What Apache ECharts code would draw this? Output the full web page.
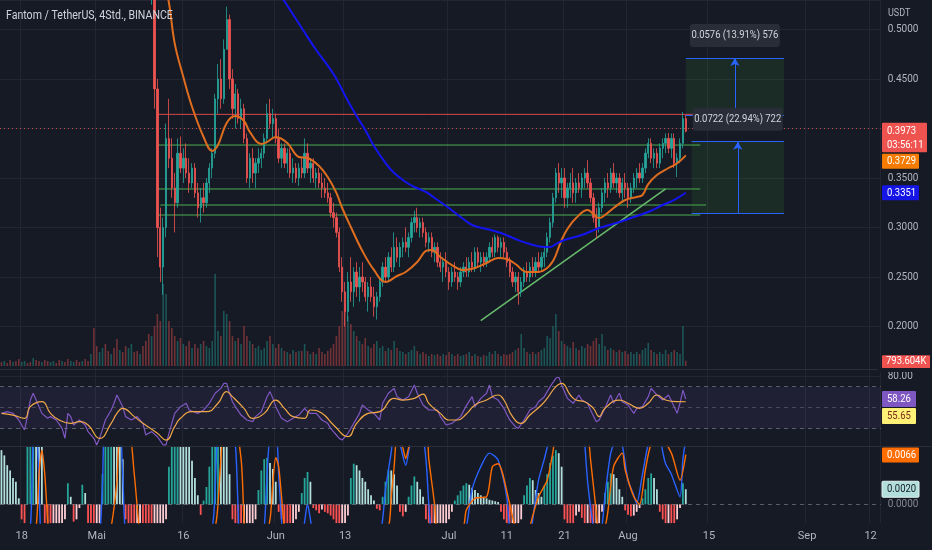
<!DOCTYPE html>
<html>
<head>
<meta charset="utf-8">
<title>FTMUSDT 4h</title>
<script src="https://cdn.jsdelivr.net/npm/echarts@6.0.0/dist/echarts.min.js"></script>
<style>
html,body{margin:0;padding:0;background:#161a25;overflow:hidden}
#chart{width:932px;height:550px}
</style>
</head>
<body>
<div id="chart"></div>
<script>
// ---------------- data ----------------
const TITLE = 'Fantom / TetherUS, 4Std., BINANCE';
const START = Date.UTC(2022, 3, 14, 12);      // first category (12h steps)
const N_CAT = 305;
const tickIdx  = [7, 33, 63, 95, 119, 155, 175, 195, 217, 245, 279, 301];
const tickText = ['18', 'Mai', '16', 'Jun', '13', 'Jul', '11', '21', 'Aug', '15', 'Sep', '12'];

const FIRST = 51; // category index of first visible candle
const open = [.56,.545,.55,.44,.30,.26,.30,.39,.37,.34,
.325,.375,.36,.37,.355,.345,.36,.335,.32,.33,
.325,.345,.36,.375,.43,.45,.43,.48,.51,.45,
.42,.435,.41,.42,.39,.35,.37,.355,.365,.37,
.375,.39,.415,.405,.41,.39,.37,.38,.365,.375,
.355,.36,.35,.36,.355,.375,.36,.365,.35,.355,
.345,.34,.335,.33,.315,.31,.295,.26,.235,.215,
.245,.235,.255,.24,.25,.245,.23,.24,.23,.22,
.23,.245,.26,.25,.27,.26,.28,.27,.28,.285,
.28,.29,.305,.31,.30,.305,.295,.285,.29,.275,
.28,.265,.26,.265,.255,.245,.255,.25,.245,.255,
.26,.255,.265,.26,.275,.265,.27,.265,.27,.28,
.275,.29,.28,.285,.275,.265,.255,.245,.25,.235,
.245,.255,.25,.26,.255,.265,.26,.27,.275,.29,
.305,.33,.355,.345,.35,.33,.34,.345,.335,.345,
.34,.35,.355,.345,.33,.31,.30,.32,.335,.345,
.34,.355,.345,.35,.335,.345,.34,.33,.34,.35,
.355,.35,.36,.375,.385,.37,.375,.365,.38,.385,
.39,.38,.39,.365,.37,.385,.41];
const close = [.545,.55,.44,.30,.26,.30,.39,.37,.34,.325,
.375,.36,.37,.355,.345,.36,.335,.32,.33,.325,
.345,.36,.375,.43,.45,.43,.48,.51,.45,.42,
.435,.41,.42,.39,.35,.37,.355,.365,.37,.375,
.39,.415,.405,.41,.39,.37,.38,.365,.375,.355,
.36,.35,.36,.355,.375,.36,.365,.35,.355,.345,
.34,.335,.33,.315,.31,.295,.26,.235,.215,.245,
.235,.255,.24,.25,.245,.23,.24,.23,.22,.23,
.245,.26,.25,.27,.26,.28,.27,.28,.285,.28,
.29,.305,.31,.30,.305,.295,.285,.29,.275,.28,
.265,.26,.265,.255,.245,.255,.25,.245,.255,.26,
.255,.265,.26,.275,.265,.27,.265,.27,.28,.275,
.29,.28,.285,.275,.265,.255,.245,.25,.235,.245,
.255,.25,.26,.255,.265,.26,.27,.275,.29,.305,
.33,.355,.345,.35,.33,.34,.345,.335,.345,.34,
.35,.355,.345,.33,.31,.30,.32,.335,.345,.34,
.355,.345,.35,.335,.345,.34,.33,.34,.35,.355,
.35,.36,.375,.385,.37,.375,.365,.38,.385,.39,
.38,.39,.365,.37,.385,.41,.3973];
const low = [.54,.525,.42,.27,.245,.232,.29,.36,.33,.295,
.32,.355,.345,.35,.335,.34,.33,.31,.305,.315,
.32,.335,.35,.37,.415,.42,.425,.48,.44,.41,
.40,.405,.40,.385,.345,.34,.345,.34,.355,.36,
.37,.385,.40,.39,.385,.365,.36,.36,.355,.35,
.345,.345,.342,.35,.35,.355,.345,.345,.34,.34,
.33,.33,.325,.31,.30,.29,.255,.225,.20,.205,
.225,.22,.23,.225,.235,.225,.215,.225,.21,.207,
.225,.24,.245,.245,.255,.255,.265,.26,.27,.275,
.27,.285,.295,.295,.29,.29,.28,.275,.27,.265,
.26,.255,.245,.25,.237,.24,.245,.237,.24,.25,
.25,.25,.255,.255,.26,.255,.26,.26,.265,.27,
.27,.275,.27,.27,.26,.25,.24,.235,.222,.23,
.24,.245,.245,.25,.25,.255,.255,.26,.27,.285,
.30,.325,.335,.33,.32,.32,.33,.325,.325,.335,
.33,.34,.34,.325,.305,.289,.295,.315,.325,.33,
.335,.34,.335,.33,.325,.33,.32,.325,.335,.34,
.345,.345,.355,.37,.365,.36,.36,.36,.37,.375,
.375,.37,.36,.351,.365,.38,.396];
const high = [.58,.57,.555,.45,.32,.31,.405,.43,.39,.355,
.39,.392,.38,.385,.37,.365,.365,.345,.34,.345,
.35,.365,.38,.435,.465,.47,.49,.523,.515,.46,
.445,.44,.43,.425,.395,.375,.38,.37,.38,.38,
.395,.425,.43,.42,.415,.40,.385,.385,.38,.38,
.37,.365,.365,.37,.39,.385,.37,.37,.36,.36,
.355,.35,.345,.335,.325,.315,.30,.27,.245,.255,
.27,.26,.265,.26,.265,.25,.245,.25,.24,.235,
.25,.265,.27,.275,.28,.295,.29,.285,.29,.30,
.295,.31,.317,.32,.31,.31,.30,.295,.295,.285,
.285,.275,.27,.275,.26,.26,.265,.255,.26,.265,
.27,.27,.275,.28,.28,.275,.275,.275,.285,.29,
.293,.292,.29,.29,.28,.27,.26,.255,.255,.25,
.26,.265,.265,.27,.27,.275,.275,.28,.295,.31,
.335,.36,.365,.36,.36,.345,.355,.36,.35,.355,
.355,.36,.368,.35,.335,.32,.325,.34,.35,.355,
.36,.365,.355,.355,.35,.355,.345,.345,.355,.36,
.365,.365,.38,.39,.39,.38,.38,.385,.39,.395,
.3955,.395,.395,.375,.39,.4167,.414];

// volume in thousands of FTM, one value per 12h category from index 0
const volume = [600,750,450,900,600,750,1050,600,750,450,
600,1200,900,750,600,900,750,600,750,450,
900,750,600,1050,750,600,900,600,750,1050,
750,1800,5700,3000,2100,2700,3300,2250,1800,2700,
4050,2400,2100,3000,2700,3300,2100,2250,1800,3000,
3750,4800,4500,6000,7800,6750,12300,10800,6750,5700,
4500,3750,4200,3300,3000,3750,2700,3300,2700,3300,
3750,3000,2700,3750,13800,5250,4500,8250,7800,6750,
4500,3750,4200,3300,6000,4500,3750,3300,2700,3000,
2400,2700,3750,4500,3300,2700,3300,2700,2250,2100,
1800,2400,2100,2250,2250,3300,2250,1800,2100,1800,
2700,2100,1800,2250,2700,3300,4500,6000,8250,9300,
7500,6300,5250,4500,3750,3300,4200,3000,2700,3300,
3750,2700,3000,2250,2700,2400,3750,2700,2250,2100,
1800,2100,2400,3000,2250,1800,2100,1800,1500,1800,
1650,1800,1500,1800,1650,2100,1800,1500,1800,1500,
1650,1800,2100,1500,1800,1500,1350,1650,1500,2100,
1800,2250,1800,1500,1800,1650,1800,2100,2400,2700,
4800,2700,2100,1800,2100,1800,2100,2400,2700,4500,
4200,6000,7800,5250,3750,3300,3000,2700,3600,2700,
2400,3000,2700,3300,3000,3750,4200,3300,4800,3000,
2400,2700,2400,2100,2400,2100,2250,1800,2100,1800,
2100,1800,2400,2700,3450,2400,2100,1800,2100,1800,
2400,1800,2100,2400,2100,1800,6000,793.604];
// direction of the volume bars before the first visible candle (u = up, d = down)
const preSide = 'duddudduudduddudduuddudduudduddudduudduddudduuddudd';

const emaFast = [[55,0.570],[58,0.527],[60,0.486],[63,0.452],[66,0.422],[70,0.3914],[73,0.3773],[75,0.3833],[78,0.4056],[81,0.4126],[84,0.4076],[86,0.3965],[90,0.3843],[92,0.3864],[95,0.3914],[99,0.3854],[103,0.3712],[106,0.3702],[110,0.3621],[113,0.351],[116,0.3349],[118,0.3197],[121,0.3005],[125,0.2763],[129,0.2571],[133,0.245],[137,0.251],[140,0.2551],[144,0.2652],[147,0.2763],[149,0.2773],[152,0.2702],[156,0.2621],[160,0.2571],[164,0.2591],[168,0.2641],[172,0.2692],[175,0.2682],[178,0.2631],[182,0.2551],[186,0.2551],[189,0.2591],[191,0.2662],[192,0.2722],[194,0.2874],[196,0.2985],[199,0.3096],[203,0.3177],[205,0.3136],[207,0.3096],[209,0.3126],[212,0.3197],[216,0.3278],[220,0.3308],[222,0.3328],[224,0.3439],[227,0.353],[231,0.3601],[233,0.3631],[235,0.3672],[237,0.3729]];
const emaSlow = [[86,0.580],[97,0.533],[104,0.5015],[109,0.4793],[115,0.455],[120,0.4278],[123,0.4126],[126,0.3985],[129,0.3823],[133,0.3652],[136,0.355],[140,0.346],[143,0.3409],[147,0.3359],[150,0.3298],[154,0.3217],[159,0.3106],[163,0.3025],[168,0.2985],[173,0.2944],[178,0.2884],[183,0.2833],[188,0.2803],[190,0.2803],[192,0.2833],[195,0.2874],[201,0.2924],[207,0.2995],[213,0.3045],[219,0.3106],[224,0.3157],[229,0.3227],[233,0.3278],[237,0.3351]];

const rsi = [[0,44.6],[2,46.2],[4,44.6],[6,38.3],[8,28.8],[9,41.5],[10,57.3],[11,63.7],[12,57.3],[14,44.6],[16,39.9],[17,41.5],[19,38.3],[21,30.3],[22,20.8],[23,44.6],[24,41.5],[25,33.5],[27,38.3],[29,33.5],[30,27.2],[32,20.8],[33,14.5],[34,20.8],[36,38.3],[38,47.8],[39,54.2],[40,62.1],[42,51.0],[43,41.5],[45,38.3],[47,41.5],[49,35.1],[50,24.0],[52,27.2],[54,22.4],[56,14.5],[57,14.5],[58,25.6],[59,35.1],[60,44.6],[62,51.0],[64,54.2],[65,47.8],[68,44.6],[70,47.8],[72,54.2],[74,63.7],[76,68.4],[77,73.2],[78,73.2],[79,63.7],[80,55.7],[81,51.0],[83,43.0],[85,38.3],[87,36.7],[88,41.5],[90,46.2],[92,60.5],[93,65.3],[94,58.9],[95,51.0],[97,39.9],[99,36.7],[101,39.9],[103,43.0],[105,49.4],[106,46.2],[107,44.6],[109,44.6],[111,38.3],[113,35.1],[114,30.3],[116,24.0],[117,20.8],[118,19.2],[120,25.6],[122,35.1],[124,44.6],[125,52.6],[127,47.8],[129,44.6],[131,38.3],[132,54.2],[134,63.7],[136,68.4],[137,60.5],[139,57.3],[141,60.5],[143,71.6],[144,63.7],[146,52.6],[148,47.8],[151,47.8],[152,41.5],[154,33.5],[156,35.1],[159,41.5],[161,52.0],[163,60.5],[164,51.0],[166,58.9],[168,63.7],[169,71.6],[170,60.5],[172,57.3],[174,49.4],[176,38.3],[178,31.9],[179,30.3],[181,38.3],[183,47.8],[185,51.0],[186,55.7],[188,60.5],[190,70.0],[192,78.0],[193,79.6],[194,71.6],[196,58.9],[198,54.2],[200,62.1],[201,57.3],[203,54.2],[204,47.8],[206,36.7],[207,38.3],[209,49.4],[211,62.1],[212,54.2],[214,63.7],[215,55.7],[217,52.6],[219,44.6],[220,49.4],[222,51.0],[224,60.5],[225,68.4],[227,62.1],[229,57.3],[231,62.1],[233,51.0],[234,44.6],[235,54.2],[236,66.8],[237,58.26]];
const rsiMa = [[0,44.6],[4,43.0],[8,39.9],[10,51.0],[14,55.7],[17,44.6],[20,38.3],[24,35.1],[27,36.7],[30,33.5],[34,20.8],[38,35.1],[40,44.6],[42,49.4],[46,41.5],[49,35.1],[54,25.6],[57,19.2],[60,31.9],[62,39.9],[66,46.2],[71,46.2],[75,54.2],[78,65.3],[80,60.5],[84,49.4],[87,39.9],[91,44.6],[95,57.3],[98,49.4],[101,41.5],[105,39.9],[107,47.8],[111,44.6],[115,33.5],[120,22.4],[123,35.1],[127,44.6],[131,46.2],[136,58.9],[139,57.3],[143,58.9],[146,63.0],[148,54.2],[152,44.6],[155,38.3],[158,38.3],[161,44.0],[164,52.6],[168,57.3],[172,62.1],[174,57.3],[177,41.5],[180,35.1],[183,43.0],[187,52.6],[189,58.9],[192,70.0],[194,73.2],[197,62.1],[199,57.3],[202,55.7],[205,49.4],[207,41.5],[209,49.4],[214,57.3],[217,54.2],[221,49.4],[224,54.2],[227,62.1],[230,57.3],[234,55.7],[237,55.65]];

const macd = [[0,-0.014],[7,-0.008],[10,-0.003],[11,0.009],[12,0.011],[13,0.003],[14,-0.006],[18,-0.012],[30,-0.011],[34,-0.004],[35,0.003],[36,0.012],[40,0.016],[42,0.004],[43,-0.004],[48,-0.014],[56,-0.016],[62,-0.008],[69,-0.006],[73,-0.003],[74,0.002],[75,0.010],[78,0.016],[81,0.008],[82,-0.001],[83,-0.008],[88,-0.010],[91,-0.003],[92,0.004],[93,0.009],[95,0.010],[96,0.004],[97,-0.002],[98,-0.006],[104,-0.004],[106,0.0],[107,-0.002],[108,-0.004],[116,-0.009],[125,-0.006],[131,-0.004],[133,0.002],[135,0.007],[136,0.010],[138,0.008],[140,0.0052],[142,0.009],[145,0.011],[147,0.006],[148,0.0],[149,-0.004],[152,-0.007],[158,-0.006],[161,-0.003],[163,0.002],[166,0.005],[169,0.0068],[172,0.0059],[175,0.001],[176,-0.003],[180,-0.008],[183,-0.005],[184,-0.002],[186,0.0032],[188,0.006],[190,0.009],[195,0.014],[201,0.011],[202,0.008],[203,0.003],[205,-0.003],[207,-0.006],[208,-0.003],[209,0.001],[211,0.0068],[213,0.009],[214,0.010],[215,0.008],[217,0.0032],[219,0.0012],[220,0.0001],[222,0.004],[224,0.008],[227,0.011],[229,0.007],[230,0.0054],[232,0.004],[235,0.001],[236,0.006],[237,0.0086]];
const signal = [[0,-0.020],[8,-0.010],[12,-0.003],[13,0.004],[14,0.0072],[15,0.004],[16,-0.002],[17,-0.006],[25,-0.010],[34,-0.010],[38,-0.003],[40,0.003],[41,0.009],[44,0.010],[46,0.004],[48,-0.004],[52,-0.012],[60,-0.014],[70,-0.006],[74,-0.003],[75,0.0],[76,0.006],[77,0.010],[80,0.012],[83,0.006],[84,-0.002],[85,-0.006],[90,-0.006],[93,-0.002],[94,0.003],[95,0.0062],[96,0.005],[97,0.001],[98,-0.003],[100,-0.006],[106,-0.005],[110,-0.004],[118,-0.006],[128,-0.007],[134,-0.003],[135,0.001],[136,0.005],[137,0.009],[139,0.0075],[140,0.0061],[141,0.0075],[143,0.010],[147,0.010],[148,0.006],[150,0.0],[151,-0.004],[155,-0.006],[160,-0.003],[161,-0.00075],[164,0.0008],[168,0.001],[170,0.005],[172,0.0054],[176,0.0001],[178,-0.003],[182,-0.005],[183,-0.003],[186,0.001],[189,0.0032],[191,0.007],[192,0.009],[198,0.012],[203,0.009],[204,0.006],[206,-0.001],[207,-0.004],[209,-0.003],[210,-0.001],[212,0.005],[215,0.0068],[216,0.0046],[219,0.001],[221,0.0],[223,0.0046],[225,0.008],[228,0.009],[232,0.0068],[235,0.0032],[237,0.0066]];
const hist = [0.0072,0.0065,0.0052,0.0045,0.0035,0.003,0.0008,-0.002,-0.004,0.009,
0.012,0.013,0.012,0.010,0.008,-0.003,-0.005,-0.006,-0.006,-0.005,
-0.004,-0.003,-0.002,0.0028,0.001,-0.0023,-0.002,-0.0005,0.0026,0.0015,
-0.003,-0.005,-0.006,-0.005,-0.003,0.004,0.009,0.012,0.013,0.012,
0.011,0.009,0.006,-0.002,-0.004,-0.005,-0.006,-0.005,-0.004,-0.005,
-0.006,-0.007,-0.008,-0.007,-0.006,-0.005,-0.004,-0.002,0.005,0.011,
0.014,0.015,0.014,0.012,0.010,0.008,0.0058,0.0035,0.0012,-0.0014,
0.0005,0.0023,0.005,0.008,0.011,0.012,0.012,0.010,0.008,0.004,
-0.002,-0.004,-0.006,-0.007,-0.007,-0.006,-0.005,-0.004,-0.002,0.0019,
0.0045,0.006,0.0062,0.0055,0.0047,0.003,-0.001,-0.002,-0.0025,-0.0028,
-0.003,-0.0025,-0.002,-0.001,0.0015,0.0035,0.0043,0.003,-0.0005,-0.0008,
-0.0012,-0.0007,-0.001,-0.0012,-0.0015,-0.002,-0.003,-0.0035,-0.003,-0.0025,
-0.0015,0.0035,0.0054,0.0052,0.0045,0.0035,0.003,0.002,0.0012,0.0005,
-0.0006,-0.0008,0.001,0.003,0.0046,0.0045,0.004,0.0025,-0.001,-0.0016,
-0.001,0.001,0.0025,0.0037,0.003,0.002,0.001,-0.002,-0.004,-0.005,
-0.005,-0.004,-0.0035,-0.003,-0.003,-0.002,-0.001,0.0005,0.0012,0.0018,
0.0025,0.0028,0.0026,0.0022,0.0019,0.0015,0.0012,0.001,0.0008,0.0006,
0.0005,0.0004,0.0003,-0.001,-0.002,-0.003,-0.004,-0.004,-0.004,-0.003,
-0.002,0.0012,0.0025,0.0035,0.0032,0.0019,0.0015,0.001,0.0025,0.004,
0.0055,0.0065,0.0072,0.0068,0.005,-0.002,-0.004,-0.005,-0.006,-0.0015,
-0.001,-0.0018,-0.004,-0.004,-0.005,-0.006,-0.005,-0.003,-0.001,0.0015,
0.003,0.0041,0.004,0.0035,0.002,0.001,-0.0008,-0.0014,-0.0016,-0.0015,
-0.001,-0.0005,0.0008,0.002,0.0035,0.0041,0.0035,0.002,-0.001,-0.002,
-0.003,-0.0025,-0.003,-0.0035,-0.002,-0.0005,0.0028,0.002];

// drawings on the chart
const hLines = [ // [price, from index, to index, kind]
  [0.4143, 54, 242, 'res'],
  [0.3833, 54, 242, 'sup'],
  [0.3389, 54, 242, 'sup'],
  [0.3227, 55, 244, 'sup'],
  [0.3126, 54, 242, 'sup']
];
const trendLine = [[166, 0.2060], [230, 0.3390]];
const rangeBoxes = [
  {i0: 237, i1: 271, mid: 254, lo: 0.4137, hi: 0.4713, text: '0.0576 (13.91%) 576'},
  {i0: 239, i1: 271, mid: 255, lo: 0.3145, hi: 0.3867, text: '0.0722 (22.94%) 722'}
];
const lastPrice = 0.3973;
const countdown = '03:56:11';
const lastVolText = '793.604K';

// ---------------- styles ----------------
const FONT = "Roboto,'Liberation Sans',sans-serif";
const BG = '#161a25', GRIDC = '#232632', TXT = '#b2b5be';
const UP = '#26a69a', DN = '#ef5350';
const RIGHT = 51.3;
const NARROW = 0.86; // horizontal squeeze of overlay texts

const cats = [];
for (let k = 0; k < N_CAT; k++) cats.push(new Date(START + k * 43200000).toISOString().slice(0, 13));

const candleRows = open.map((o, k) => [FIRST + k, o, close[k], low[k], high[k]]);
const isUp = i => i >= FIRST ? close[i - FIRST] >= open[i - FIRST] : preSide[i] !== 'd';
const volData = volume.map((v, i) => ({value: v, itemStyle: {color: isUp(i) ? 'rgba(38,166,154,0.42)' : 'rgba(239,83,80,0.42)'}}));
const histData = hist.map((v, i) => {
  const p = i > 0 ? hist[i - 1] : v;
  let c;
  if (v >= 0) c = v > p ? '#26a69a' : '#b2dfdb';
  else c = v < p ? '#ff5252' : '#ffcdd2';
  return {value: v, itemStyle: {color: c}};
});

function xAxis(gi, labels, split) {
  return {
    type: 'category', gridIndex: gi, data: cats, boundaryGap: true,
    axisLine: {show: false}, axisTick: {show: false},
    axisLabel: {
      show: labels, interval: i => tickIdx.includes(i),
      formatter: (v, i) => { const k = tickIdx.indexOf(i); return k >= 0 ? tickText[k] : ''; },
      color: TXT, fontFamily: FONT, fontSize: 11, margin: 8
    },
    splitLine: {show: split, interval: i => tickIdx.includes(i), lineStyle: {color: GRIDC, width: 1}}
  };
}
const hidY = (gi, min, max) => ({type: 'value', gridIndex: gi, min, max, position: 'right',
  axisLine: {show: false}, axisTick: {show: false}, axisLabel: {show: false}, splitLine: {show: false}});

// drawn lines as two-point line series
const drawSeries = hLines.map(h => ({
  type: 'line', xAxisIndex: 0, yAxisIndex: 0, silent: true, z: 2, symbol: 'none', showSymbol: false,
  data: [[h[1], h[0]], [h[2], h[0]]],
  lineStyle: {color: h[3] === 'res' ? '#d9474b' : '#4caf50', width: 1, opacity: 1}
}));
drawSeries.push({type: 'line', xAxisIndex: 0, yAxisIndex: 0, silent: true, z: 2, symbol: 'none', showSymbol: false,
  data: trendLine, lineStyle: {color: '#66bb6a', width: 1.5, opacity: 1}});

const boxArea = rangeBoxes.map(b => [{coord: [b.i0, b.hi]}, {coord: [b.i1, b.lo]}]);
const boxEdges = [];
rangeBoxes.forEach(b => {
  boxEdges.push([{coord: [b.i0, b.hi]}, {coord: [b.i1, b.hi]}]);
  boxEdges.push([{coord: [b.i0, b.lo]}, {coord: [b.i1, b.lo]}]);
});
const arrows = rangeBoxes.map(b => [{coord: [b.mid, b.lo]}, {coord: [b.mid, b.hi]}]);

const chart = echarts.init(document.getElementById('chart'));
chart.setOption({
  backgroundColor: BG,
  animation: false,
  textStyle: {fontFamily: FONT},
  grid: [
    {left: 0, right: RIGHT, top: 0, height: 376, outerBoundsMode: 'none'},
    {left: 0, right: RIGHT, top: 266, height: 100, outerBoundsMode: 'none'},
    {left: 0, right: RIGHT, top: 372, height: 74, outerBoundsMode: 'none'},
    {left: 0, right: RIGHT, top: 446.4, height: 76.7, outerBoundsMode: 'none'}
  ],
  xAxis: [xAxis(0, false, true), xAxis(1, false, false), xAxis(2, false, true), xAxis(3, true, true)],
  yAxis: [
    {type: 'value', gridIndex: 0, position: 'right', min: 0.15, max: 0.5298, interval: 0.05,
      axisLine: {show: false}, axisTick: {show: false},
      axisLabel: {formatter: v => v.toFixed(4), showMinLabel: false, showMaxLabel: false, color: TXT, fontSize: 10, fontFamily: FONT, margin: 7},
      splitLine: {lineStyle: {color: GRIDC, width: 1}}},
    hidY(1, 0, 15000),
    hidY(2, 13.52, 84),
    hidY(3, -0.0025, 0.0077)
  ],
  series: [
    {type: 'candlestick', xAxisIndex: 0, yAxisIndex: 0, data: candleRows, encode: {x: 0, y: [1, 2, 3, 4]},
      barWidth: 1.8, clip: true, z: 3, silent: true,
      itemStyle: {color: UP, color0: DN, borderColor: UP, borderColor0: DN, borderWidth: 0.8}},
    {type: 'line', xAxisIndex: 0, yAxisIndex: 0, data: [], silent: true, z: 1,
      markArea: {silent: true, itemStyle: {color: 'rgba(60,160,50,0.13)'}, data: boxArea},
      markLine: {silent: true, symbol: 'none', label: {show: false}, animation: false,
        data: [{yAxis: lastPrice}], lineStyle: {color: '#ef5350', width: 1, type: [1, 3], opacity: 0.8}}},
    {type: 'line', xAxisIndex: 0, yAxisIndex: 0, data: [], silent: true, z: 4,
      markLine: {silent: true, symbol: 'none', label: {show: false}, lineStyle: {color: '#2962ff', width: 1, type: 'solid'}, data: boxEdges}},
    {type: 'line', xAxisIndex: 0, yAxisIndex: 0, data: [], silent: true, z: 4,
      markLine: {silent: true, symbol: ['none', 'arrow'], symbolSize: [7, 8], label: {show: false}, lineStyle: {color: '#2962ff', width: 1, type: 'solid'}, data: arrows}},
    ...drawSeries,
    {type: 'line', name: 'EMA fast', xAxisIndex: 0, yAxisIndex: 0, data: emaFast, smooth: 0.4, showSymbol: false, symbol: 'none', z: 5, silent: true,
      lineStyle: {color: '#df6d1f', width: 2}},
    {type: 'line', name: 'EMA slow', xAxisIndex: 0, yAxisIndex: 0, data: emaSlow, smooth: 0.4, showSymbol: false, symbol: 'none', z: 5, silent: true,
      lineStyle: {color: '#1414f0', width: 2}},
    {type: 'bar', name: 'Volume', xAxisIndex: 1, yAxisIndex: 1, data: volData, barWidth: 1.6, silent: true, z: 1},
    {type: 'line', name: 'RSI', xAxisIndex: 2, yAxisIndex: 2, data: rsi, showSymbol: false, symbol: 'none', silent: true, z: 4,
      lineStyle: {color: '#7e57c2', width: 1.2},
      markArea: {silent: true, itemStyle: {color: 'rgba(126,87,194,0.1)'}, data: [[{yAxis: 30}, {yAxis: 70}]]},
      markLine: {silent: true, symbol: 'none', data: [
        {yAxis: 80, lineStyle: {color: GRIDC, type: 'solid', width: 1}, label: {show: true, position: 'end', formatter: '80.00', color: TXT, fontSize: 10, fontFamily: FONT, distance: 7}},
        {yAxis: 70, lineStyle: {color: '#787b86', type: [4, 4], width: 1, opacity: 0.7}, label: {show: false}},
        {yAxis: 50, lineStyle: {color: '#787b86', type: [4, 4], width: 1, opacity: 0.45}, label: {show: false}},
        {yAxis: 30, lineStyle: {color: '#787b86', type: [4, 4], width: 1, opacity: 0.7}, label: {show: false}}
      ]}},
    {type: 'line', name: 'RSI MA', xAxisIndex: 2, yAxisIndex: 2, data: rsiMa, smooth: 0.5, showSymbol: false, symbol: 'none', silent: true, z: 5,
      lineStyle: {color: '#f0a848', width: 1.2}},
    {type: 'bar', name: 'Histogram', xAxisIndex: 3, yAxisIndex: 3, data: histData, barWidth: 1.8, silent: true, z: 2,
      markLine: {silent: true, symbol: 'none', data: [
        {yAxis: 0.005, lineStyle: {color: GRIDC, type: 'solid', width: 1}, label: {show: true, position: 'end', formatter: '0.0050', color: TXT, fontSize: 10, fontFamily: FONT, distance: 7}},
        {yAxis: 0, lineStyle: {color: '#787b86', type: [4, 4], width: 1, opacity: 0.7}, label: {show: true, position: 'end', formatter: '0.0000', color: TXT, fontSize: 10, fontFamily: FONT, distance: 7}}
      ]}},
    {type: 'line', name: 'MACD', xAxisIndex: 3, yAxisIndex: 3, data: macd, smooth: 0.25, showSymbol: false, symbol: 'none', silent: true, z: 4,
      lineStyle: {color: '#2962ff', width: 1.4}},
    {type: 'line', name: 'Signal', xAxisIndex: 3, yAxisIndex: 3, data: signal, smooth: 0.25, showSymbol: false, symbol: 'none', silent: true, z: 4,
      lineStyle: {color: '#ff6d00', width: 1.4}}
  ]
});

// ---------------- overlay labels positioned from the axes ----------------
const Y = (gi, v) => chart.convertToPixel({yAxisIndex: gi}, v);
const X = i => chart.convertToPixel({xAxisIndex: 0}, i);
const AX = 882;
const txt = (x, y, s, fill, size, extra) => ({type: 'text', x, y, z: 100, scaleX: NARROW,
  style: Object.assign({text: s, fill, fontSize: size, fontFamily: FONT, align: 'left', verticalAlign: 'middle'}, extra || {})});
const rect = (x, y, w, h, fill, extra, r) => ({type: 'rect', z: 99, shape: {x, y, width: w, height: h, r: r || 1}, style: Object.assign({fill}, extra || {})});

const g = [];
g.push(txt(6, 16, TITLE, '#d1d4dc', 12.3));
g.push(txt(888, 13, 'USDT', TXT, 10.5));

// range tool labels
rangeBoxes.forEach(b => {
  const cx = X(b.mid), cy = Y(0, b.hi) - 22.5;
  g.push(rect(cx - 45, cy - 11.5, 90, 23, 'rgba(42,46,57,0.96)', null, 3));
  g.push(txt(cx, cy, b.text, '#d1d4dc', 11, {align: 'center'}));
});

// last price + countdown
const yP = Y(0, lastPrice);
g.push(rect(AX, yP - 8.5, 45, 29.5, '#ef5350'));
g.push(txt(AX + 5, yP, lastPrice.toFixed(4), '#ffffff', 11));
g.push(txt(AX + 5, yP + 14, countdown, '#ffffff', 11));
// EMA values
const fastLast = emaFast[emaFast.length - 1][1], slowLast = emaSlow[emaSlow.length - 1][1];
const yF = Math.max(Y(0, fastLast) - 7.5, yP + 21 + 1.5);
g.push(rect(AX, yF, 37, 15, '#f57c00'));
g.push(txt(AX + 5, yF + 7.5, fastLast.toFixed(4), '#ffffff', 11));
const yS = Y(0, slowLast) - 7.5;
g.push(rect(AX, yS, 37, 15, '#1515e6'));
g.push(txt(AX + 5, yS + 7.5, slowLast.toFixed(4), '#ffffff', 11));
// volume value
const yV = Y(1, volume[volume.length - 1]);
g.push(rect(AX, yV - 5.5, 48, 13, '#ef5350'));
g.push(txt(AX + 4, yV + 1, lastVolText, '#ffffff', 11));
g.push({type: 'rect', z: 101, shape: {x: 878, y: 368, width: 60, height: 4}, style: {fill: BG}});
// RSI values
const rLast = rsi[rsi.length - 1][1], mLast = rsiMa[rsiMa.length - 1][1];
const yR = Y(2, rLast) - 8;
g.push(rect(AX, yR, 34, 16, '#7e57c2'));
g.push(txt(AX + 5, yR + 8, rLast.toFixed(2), '#ffffff', 11));
const yM = Math.max(Y(2, mLast) - 8, yR + 17);
g.push(rect(AX, yM, 34, 16, '#fff176'));
g.push(txt(AX + 5, yM + 8, mLast.toFixed(2), '#7a2a1a', 11));
// MACD values
const sLast = signal[signal.length - 1][1], hLast = hist[hist.length - 1];
const ySig = Math.max(Y(3, sLast) - 7.5, 447.5);
g.push(rect(AX, ySig, 37, 15, '#ff6d00'));
g.push(txt(AX + 5, ySig + 7.5, sLast.toFixed(4), '#ffffff', 11));
const yH = Y(3, hLast) - 8;
g.push(rect(AX, yH, 37, 16, '#b2dfdb', {stroke: '#e0f2f1', lineWidth: 1}));
g.push(txt(AX + 5, yH + 8, hLast.toFixed(4), '#131722', 11));
// pane separators
g.push({type: 'line', z: 98, shape: {x1: 0, y1: 369.5, x2: 932, y2: 369.5}, style: {stroke: '#2a2e39', lineWidth: 1}});
g.push({type: 'line', z: 98, shape: {x1: 0, y1: 446.5, x2: 932, y2: 446.5}, style: {stroke: '#2a2e39', lineWidth: 1}});

chart.setOption({graphic: g});
</script>
</body>
</html>
